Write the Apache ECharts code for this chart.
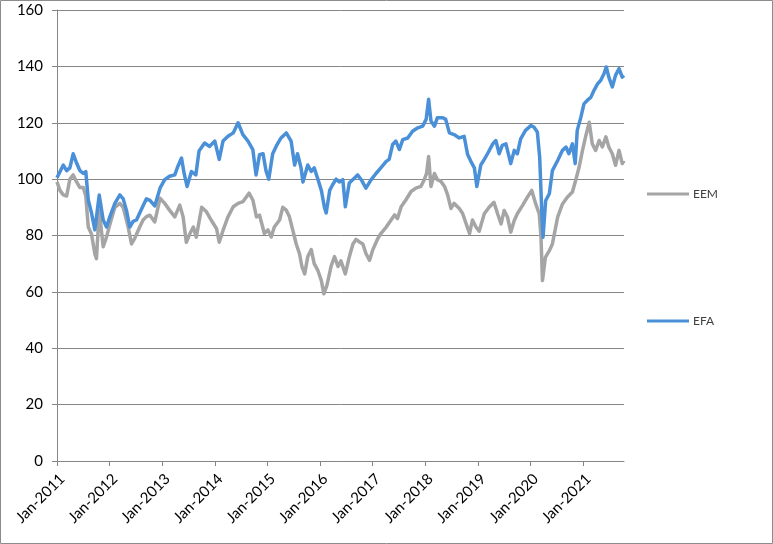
<!DOCTYPE html>
<html>
<head>
<meta charset="utf-8">
<script src="https://cdn.jsdelivr.net/npm/echarts@6/dist/echarts.min.js"></script>
<style>
html,body{margin:0;padding:0;background:#fff;}
#c{width:773px;height:544px;}
</style>
</head>
<body>
<div id="c"></div>
<script>
// EEM
const eemDates = ['2011-01-01','2011-01-21','2011-02-14','2011-03-07','2011-03-29','2011-04-22','2011-05-15','2011-06-08','2011-07-01','2011-07-18','2011-08-05','2011-08-27','2011-09-20','2011-10-01','2011-10-20','2011-11-17','2011-12-10','2012-01-03','2012-02-07','2012-03-11','2012-04-04','2012-05-08','2012-06-01','2012-06-23','2012-07-27','2012-08-20','2012-09-13','2012-10-07','2012-11-10','2012-12-16','2013-01-18','2013-02-21','2013-03-27','2013-05-01','2013-05-24','2013-06-16','2013-07-10','2013-08-04','2013-08-24','2013-10-01','2013-11-04','2013-12-07','2014-01-13','2014-02-01','2014-02-27','2014-04-01','2014-05-07','2014-06-10','2014-07-13','2014-08-25','2014-09-21','2014-10-16','2014-11-07','2014-11-19','2014-12-10','2015-01-04','2015-01-27','2015-02-18','2015-03-24','2015-04-16','2015-05-10','2015-06-01','2015-06-24','2015-07-18','2015-08-10','2015-08-27','2015-09-16','2015-10-07','2015-11-01','2015-11-21','2015-12-16','2016-01-10','2016-01-27','2016-02-18','2016-03-16','2016-04-10','2016-05-04','2016-05-24','2016-06-07','2016-06-24','2016-07-21','2016-08-16','2016-09-07','2016-10-01','2016-10-24','2016-11-15','2016-12-10','2017-01-01','2017-02-07','2017-02-27','2017-04-04','2017-05-07','2017-06-01','2017-06-21','2017-07-16','2017-08-18','2017-09-24','2017-10-27','2017-12-01','2017-12-24','2018-01-10','2018-01-24','2018-02-10','2018-03-04','2018-03-24','2018-04-18','2018-05-13','2018-06-04','2018-06-27','2018-07-18','2018-08-24','2018-09-16','2018-10-10','2018-11-04','2018-11-24','2018-12-18','2019-01-10','2019-02-15','2019-03-18','2019-04-21','2019-05-16','2019-06-10','2019-07-01','2019-07-24','2019-08-16','2019-09-10','2019-10-01','2019-11-07','2019-12-10','2020-01-10','2020-02-07','2020-03-01','2020-03-13','2020-03-23','2020-04-13','2020-05-10','2020-06-01','2020-07-07','2020-08-10','2020-09-13','2020-10-18','2020-11-10','2020-12-04','2020-12-27','2021-01-18','2021-02-13','2021-03-04','2021-03-27','2021-04-21','2021-05-13','2021-06-07','2021-06-27','2021-07-21','2021-08-13','2021-09-07','2021-09-29','2021-10-11'];
const eemValues = [99,96,94.4,94,100,101.5,99,97,97,94,83,80.5,73.5,71.8,89,76,79.5,84,90,91.4,90,83,77,79,83,85.5,86.7,87.2,84.8,93.2,91.4,89,86.6,90.8,86.6,77.6,80.6,83,79.4,90,88.4,85.4,82.4,77.6,81.8,86.6,90.2,91.4,92,95,92.6,86.6,87.2,86.7,80.7,82,79.5,83,85.5,90,89,86.7,82,77,73.6,69,66.4,72.5,75,70,67.6,64,59.3,62.3,69,72.5,69,71,71.2,66.4,72.4,77,78.6,77.7,77,73.6,71.2,74.8,79,80.7,83,85.5,87.3,86,90.2,92.6,95.6,96.8,97.4,99.8,102,108,97.4,102,99.8,99.2,97.4,94.4,89.6,91.4,89.6,87.9,84.3,80.7,85.5,83,81.5,87.7,90,91.8,87.7,84.1,88.9,86.5,81.2,85.3,87.7,90.7,93.6,96,91.2,87.7,79.4,64,72.2,74.6,77,86.5,91.2,93.6,95.4,99.5,104.3,110.2,115,120.2,112.5,110.2,113.7,111.4,115,111.4,109,104.9,110.2,105.5,106.6];
// EFA
const efaDates = ['2011-01-01','2011-02-14','2011-03-07','2011-03-29','2011-04-22','2011-05-15','2011-06-08','2011-07-01','2011-07-18','2011-08-05','2011-08-27','2011-09-20','2011-10-20','2011-11-17','2011-12-10','2012-01-03','2012-02-07','2012-03-11','2012-04-04','2012-04-26','2012-05-19','2012-06-12','2012-07-05','2012-07-27','2012-09-13','2012-10-07','2012-11-10','2012-12-16','2013-01-18','2013-02-21','2013-03-27','2013-04-18','2013-05-13','2013-06-01','2013-06-21','2013-07-21','2013-08-21','2013-09-13','2013-10-21','2013-11-24','2014-01-01','2014-02-01','2014-02-27','2014-04-01','2014-05-07','2014-06-10','2014-07-13','2014-08-18','2014-09-21','2014-10-13','2014-11-07','2014-12-01','2014-12-21','2015-01-10','2015-02-07','2015-03-01','2015-04-04','2015-05-10','2015-06-13','2015-07-07','2015-07-27','2015-08-21','2015-09-04','2015-10-07','2015-11-01','2015-11-21','2015-12-16','2016-01-10','2016-02-01','2016-02-13','2016-03-07','2016-03-27','2016-04-21','2016-05-13','2016-06-07','2016-06-24','2016-07-21','2016-08-27','2016-09-18','2016-10-13','2016-11-15','2016-12-21','2017-01-24','2017-02-27','2017-04-04','2017-04-24','2017-05-18','2017-06-10','2017-07-04','2017-07-27','2017-09-01','2017-10-04','2017-11-10','2017-12-13','2018-01-07','2018-01-24','2018-02-10','2018-03-04','2018-03-24','2018-05-01','2018-05-21','2018-06-16','2018-07-18','2018-08-24','2018-09-27','2018-10-21','2018-11-13','2018-12-07','2018-12-24','2019-01-21','2019-02-15','2019-03-07','2019-04-13','2019-05-04','2019-05-27','2019-06-18','2019-07-13','2019-08-16','2019-09-10','2019-10-01','2019-10-24','2019-11-27','2020-01-04','2020-01-24','2020-02-18','2020-03-04','2020-03-18','2020-03-27','2020-04-15','2020-05-10','2020-06-01','2020-07-07','2020-08-10','2020-09-04','2020-09-24','2020-10-18','2020-11-07','2020-11-21','2020-12-16','2021-01-07','2021-02-01','2021-02-24','2021-03-16','2021-04-10','2021-05-01','2021-05-24','2021-06-10','2021-06-27','2021-07-21','2021-08-13','2021-09-07','2021-09-29','2021-10-11'];
const efaValues = [100.5,105,103,104,109,105.7,103,102,102.7,92.6,88,82,94.4,85.5,83,86.7,91.4,94.4,93,89,83,85,85.5,88,93,92.5,90.5,96.8,99.8,101,101.5,104.5,107.5,102,97.4,102.7,101.5,110,112.8,111.6,113.5,107,113.5,115.2,116.4,120,115.8,113.5,110.5,101.5,108.7,109,103,100,109,111.7,114.6,116.4,113.5,105,109,104,99,105,102.7,104,100,96,90,88,96,98,100,99,99.8,90.2,98.6,100.4,101.5,99.8,96.8,99.8,102,104,106.3,107,112.3,113.5,110.5,114,114.6,117,118.2,118.8,121.2,128.3,120.6,118.8,121.8,121.8,121.2,116.4,115.8,114.6,115.2,108.7,106.3,104,97.4,105,107,109,112.5,113.7,109,112,112.5,105.5,110.2,109,114.3,117.3,119,118.5,116.7,107.8,88.9,79.4,92.4,94.8,103,106.6,110.2,111.4,109,112.5,105.5,117.3,122,126.7,128,129,131.5,133.8,135,137.4,139.8,136.2,132.7,136.8,139.2,136.2,136.8];
const yTicks = [0,20,40,60,80,100,120,140,160];
const startYear = 2011;

function monthIndex(s){
  const p = s.split('-').map(Number);
  return (p[0]-startYear)*12 + (p[1]-1) + (p[2]-1)/30;
}
const eemData = eemDates.map((d,i)=>[monthIndex(d), eemValues[i]]);
const efaData = efaDates.map((d,i)=>[monthIndex(d), efaValues[i]]);
const xMax = Math.max(monthIndex(eemDates[eemDates.length-1]), monthIndex(efaDates[efaDates.length-1]));

const FONT = 'Lato';
const GRID = '#868686';
const chart = echarts.init(document.getElementById('c'), null, {renderer:'canvas'});
chart.setOption({
  animation:false,
  backgroundColor:'#ffffff',
  textStyle:{fontFamily:FONT},
  grid:{left:57, right:149, top:10, bottom:83, containLabel:false},
  graphic:[{type:'rect', shape:{x:0.5,y:0.5,width:772,height:543}, style:{fill:'none', stroke:'#8c8c8c', lineWidth:1}, silent:true, z:-1}],
  legend:[
    {data:['EEM'], left:647, top:188, padding:0, orient:'vertical', icon:'rect', itemWidth:42, itemHeight:3, itemGap:0,
     textStyle:{fontFamily:FONT, fontSize:12, color:'#404040', padding:[0,0,0,-1]}},
    {data:['EFA'], left:647, top:315, padding:0, orient:'vertical', icon:'rect', itemWidth:42, itemHeight:3, itemGap:0,
     textStyle:{fontFamily:FONT, fontSize:12, color:'#404040', padding:[0,0,0,-1]}}
  ],
  xAxis:{
    type:'value', min:0, max:xMax, interval:12,
    axisLine:{show:true, onZero:false, lineStyle:{color:GRID, width:1}},
    axisTick:{show:true, length:5, lineStyle:{color:GRID}},
    splitLine:{show:false},
    axisLabel:{rotate:45, margin:10, verticalAlign:'top', fontFamily:FONT, fontSize:15, color:'#000',
      showMaxLabel:false,
      formatter:function(v){ return (Math.abs(v%12)<1e-6) ? 'Jan-' + (startYear + Math.round(v/12)) : ''; }}
  },
  yAxis:{
    type:'value', min:yTicks[0], max:yTicks[yTicks.length-1], interval:20,
    axisLine:{show:true, lineStyle:{color:GRID, width:1}},
    axisTick:{show:true, length:5, lineStyle:{color:GRID}},
    splitLine:{show:true, lineStyle:{color:GRID, width:1}},
    axisLabel:{margin:14, fontFamily:FONT, fontSize:15, color:'#000'}
  },
  series:[
    {name:'EEM', type:'line', data:eemData, showSymbol:false, symbol:'none', color:'#A5A5A5',
     lineStyle:{color:'#A5A5A5', width:3.5, join:'round'}, z:2},
    {name:'EFA', type:'line', data:efaData, showSymbol:false, symbol:'none', color:'#4A90D9',
     lineStyle:{color:'#4A90D9', width:3.5, join:'round'}, z:3}
  ]
});
</script>
</body>
</html>
